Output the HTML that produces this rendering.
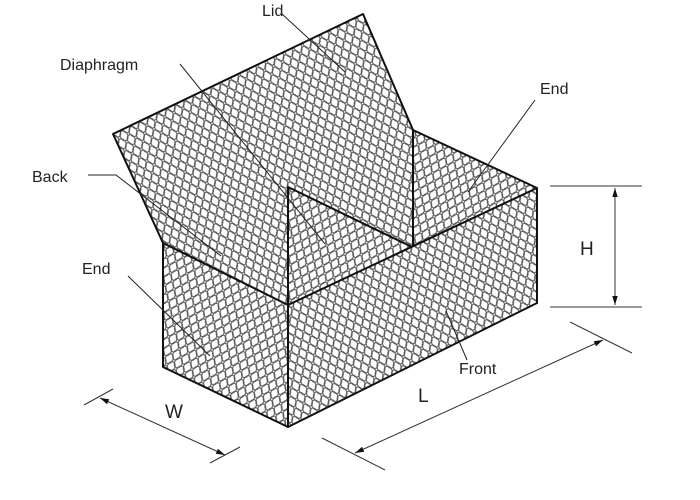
<!DOCTYPE html>
<html><head><style>
html,body{margin:0;padding:0;background:#fff;}
svg{display:block;}
text{font-family:"Liberation Sans",sans-serif;fill:#222;}
</style></head><body>
<svg width="700" height="500" viewBox="0 0 700 500" xmlns="http://www.w3.org/2000/svg">
<defs>
<pattern id="m1" width="10" height="13" patternUnits="userSpaceOnUse" patternTransform="rotate(-25)">
<rect width="10" height="13" fill="#fff"/>
<ellipse cx="5" cy="6.5" rx="3.8" ry="5.2" fill="none" stroke="#555" stroke-width="1"/>
<ellipse cx="0" cy="0" rx="3.8" ry="5.2" fill="none" stroke="#555" stroke-width="1"/>
<ellipse cx="10" cy="0" rx="3.8" ry="5.2" fill="none" stroke="#555" stroke-width="1"/>
<ellipse cx="0" cy="13" rx="3.8" ry="5.2" fill="none" stroke="#555" stroke-width="1"/>
<ellipse cx="10" cy="13" rx="3.8" ry="5.2" fill="none" stroke="#555" stroke-width="1"/>
</pattern>
<pattern id="m2" width="10" height="13" patternUnits="userSpaceOnUse" patternTransform="rotate(25)">
<rect width="10" height="13" fill="#fff"/>
<ellipse cx="5" cy="6.5" rx="3.8" ry="5.2" fill="none" stroke="#555" stroke-width="1"/>
<ellipse cx="0" cy="0" rx="3.8" ry="5.2" fill="none" stroke="#555" stroke-width="1"/>
<ellipse cx="10" cy="0" rx="3.8" ry="5.2" fill="none" stroke="#555" stroke-width="1"/>
<ellipse cx="0" cy="13" rx="3.8" ry="5.2" fill="none" stroke="#555" stroke-width="1"/>
<ellipse cx="10" cy="13" rx="3.8" ry="5.2" fill="none" stroke="#555" stroke-width="1"/>
</pattern>
<marker id="ar" viewBox="0 0 10 10" refX="10" refY="5" markerWidth="9" markerHeight="9" orient="auto-start-reverse" markerUnits="userSpaceOnUse">
<path d="M0,2 L10,5 L0,8 Z" fill="#111"/>
</marker>
</defs>
<g stroke="#111" stroke-width="2" stroke-linejoin="round">
<polygon points="163,243 413,130 413,250 163,367" fill="url(#m1)" stroke="none"/>
<polygon points="113,134 363,14 413,130 163,243" fill="url(#m1)" stroke="none"/>
<polyline points="163,243 113,134 363,14 413,130" fill="none"/>
<polygon points="413,130 537,188 537,303 413,247" fill="url(#m2)"/>
<polygon points="288,187 412,247 288,305" fill="url(#m2)"/>
<polygon points="163,243 288,305 288,427 163,367" fill="url(#m2)"/>
<polygon points="288,305 537,188 537,303 288,427" fill="url(#m1)"/>
<line x1="288" y1="187" x2="288" y2="305"/>
<line x1="413" y1="130" x2="413" y2="247"/>
</g>
<g stroke="#222" stroke-width="1" fill="none">
<polyline points="282,14 345,72"/>
<polyline points="180,64 325,244"/>
<polyline points="88,175 116,175 221,256"/>
<polyline points="535,100 468,192"/>
<polyline points="128,276 210,356"/>
<polyline points="467,360 446,311"/>
</g>
<g fill="none" stroke="#333" stroke-width="1">
<line x1="550" y1="186" x2="642" y2="186"/>
<line x1="550" y1="307" x2="642" y2="307"/>
<line x1="615" y1="188" x2="615" y2="305" marker-start="url(#ar)" marker-end="url(#ar)"/>
<line x1="84" y1="405" x2="113" y2="389"/>
<line x1="210" y1="463" x2="240" y2="447"/>
<line x1="100" y1="398" x2="225" y2="455" marker-start="url(#ar)" marker-end="url(#ar)"/>
<line x1="322" y1="438" x2="385" y2="470"/>
<line x1="570" y1="322" x2="632" y2="353"/>
<line x1="355" y1="453" x2="603" y2="340" marker-start="url(#ar)" marker-end="url(#ar)"/>
</g>
<g font-size="16">
<text x="262" y="16">Lid</text>
<text x="60" y="70">Diaphragm</text>
<text x="32" y="182">Back</text>
<text x="540" y="94">End</text>
<text x="82" y="274">End</text>
<text x="459" y="374">Front</text>
</g>
<g font-size="19">
<text x="580" y="255">H</text>
<text x="165" y="418">W</text>
<text x="418" y="402">L</text>
</g>
</svg>
</body></html>
